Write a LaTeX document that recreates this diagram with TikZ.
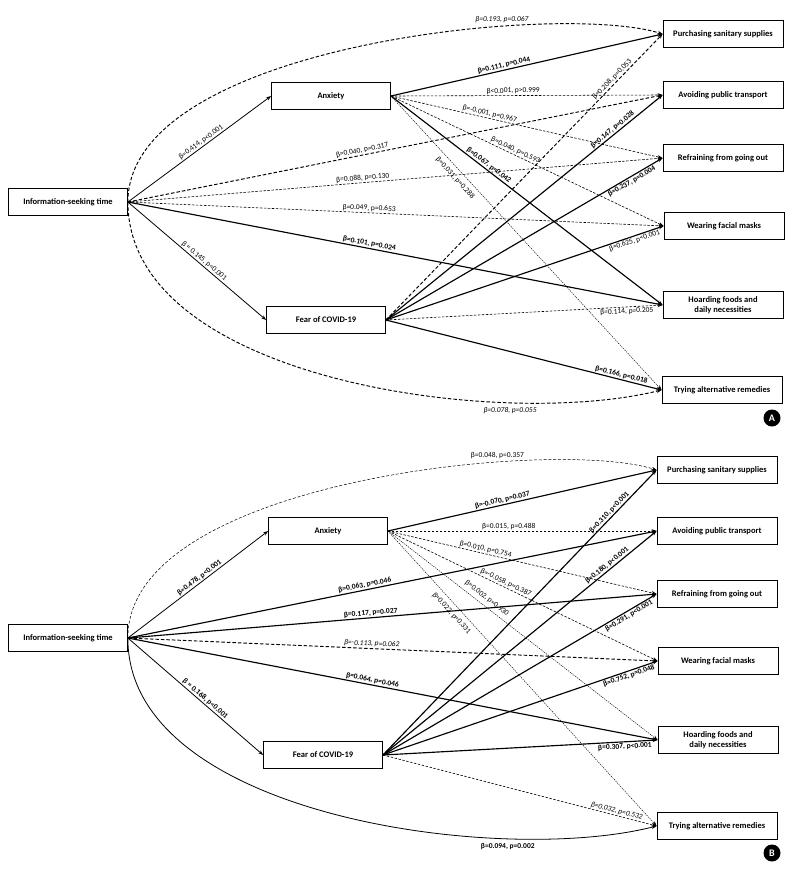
\documentclass[tikz,border=0pt]{standalone}
\usepackage{fontspec}
\setmainfont{Carlito}
\usetikzlibrary{arrows.meta}
\begin{document}
\begin{tikzpicture}[x=1pt,y=-1pt,
  box/.style={draw,line width=0.8pt,fill=white,minimum width=119pt,minimum height=27pt,
    inner sep=1pt,align=center,font=\bfseries\fontsize{8.5}{10}\selectfont},
  tip/.style={-{Stealth[length=5pt,width=3.6pt]}},
  sig/.style={tip,line width=1.15pt},
  medline/.style={tip,line width=0.8pt},
  nsthick/.style={tip,line width=0.95pt,dash pattern=on 3.5pt off 2pt},
  nsmed/.style={tip,line width=0.6pt,dash pattern=on 2.5pt off 1.5pt},
  nsthin/.style={tip,line width=0.45pt,dash pattern=on 1.3pt off 1pt},
  nscurve/.style={tip,line width=0.5pt,dash pattern=on 3pt off 1.8pt},
  lab/.style={font=\fontsize{7.5}{8}\selectfont,inner sep=1pt},
  slab/.style={lab,sloped},
  badge/.style={circle,fill=black,text=white,minimum size=17pt,inner sep=0pt,font=\bfseries\fontsize{10}{10}\selectfont}
]
\useasboundingbox (0,0) rectangle (791,871);

% ================= Panel A =================
\node[box] (infoA) at (68,202) {Information-seeking time};
\node[box] (anxA) at (331,96) {Anxiety};
\node[box] (fearA) at (326,320) {Fear of COVID-19};
\node[box,minimum width=120pt] (purA) at (723,34) {Purchasing sanitary supplies};
\node[box,minimum width=120pt] (avoA) at (723,95) {Avoiding public transport};
\node[box,minimum width=120pt] (refA) at (723,158) {Refraining from going out};
\node[box,minimum width=120pt] (weaA) at (724,226) {Wearing facial masks};
\node[box,minimum width=120pt] (hoaA) at (723,305) {Hoarding foods and\\daily necessities};
\node[box,minimum width=120pt] (tryA) at (722,390) {Trying alternative remedies};
\node[badge] (badgeA) at (772,418) {A};

\draw[nsthick] (infoA.east) .. controls (128,45) and (560,2) .. node[lab,pos=0.7,above=2pt]{\itshape β=0.193, p=0.067} (purA.west);
\draw[medline] (infoA.east) -- node[slab,pos=0.53,above]{β=0.414, p<0.001} (anxA.west);
\draw[medline] (infoA.east) -- node[slab,pos=0.53,above]{β = 0.145, p<0.001} (fearA.west);
\draw[nsthick] (infoA.east) -- node[slab,pos=0.44,above]{β=0.040, p=0.317} (avoA.west);
\draw[nsmed] (infoA.east) -- node[slab,pos=0.44,above]{β=0.088, p=0.130} (refA.west);
\draw[nsmed] (infoA.east) -- node[slab,pos=0.45,above]{β=0.049, p=0.653} (weaA.west);
\draw[sig] (infoA.east) -- node[slab,pos=0.45,above]{\bfseries β=0.101, p=0.024} (hoaA.west);
\draw[nsthick] (infoA.east) .. controls (128,380) and (500,430) .. node[lab,pos=0.75,below=3pt]{\itshape β=0.078, p=0.055} (tryA.west);

\draw[sig] (anxA.east) -- node[slab,pos=0.42,above]{\bfseries β=0.111, p=0.044} (purA.west);
\draw[nsmed] (anxA.east) -- node[slab,pos=0.45,above]{β<0.001, p>0.999} (avoA.west);
\draw[nsmed] (anxA.east) -- node[slab,pos=0.36,above]{β=-0.001, p=0.967} (refA.west);
\draw[nsmed] (anxA.east) -- node[slab,pos=0.45,above]{β=0.040, p=0.593} (weaA.west);
\draw[sig] (anxA.east) -- node[slab,pos=0.35,above]{\bfseries β=0.067, p=0.042} (hoaA.west);
\draw[nsthin] (anxA.east) -- node[slab,pos=0.26,below=4pt]{β=0.031, p=0.288} (tryA.west);

\draw[nsthick] (fearA.east) -- node[slab,pos=0.83,above]{β=0.208, p=0.053} (purA.west);
\draw[sig] (fearA.east) -- node[slab,pos=0.83,above]{\bfseries β=0.147, p=0.028} (avoA.west);
\draw[sig] (fearA.east) -- node[slab,pos=0.88,below]{\bfseries β=0.237, p=0.004} (refA.west);
\draw[sig] (fearA.east) -- node[slab,pos=0.89,below]{β=0.625, p<0.001} (weaA.west);
\draw[nsmed] (fearA.east) -- node[slab,pos=0.87,below]{β=0.114, p=0.205} (hoaA.west);
\draw[sig] (fearA.east) -- node[slab,pos=0.85,above]{\bfseries β=0.166, p=0.018} (tryA.west);

% ================= Panel B =================
\node[box] (infoB) at (68,638) {Information-seeking time};
\node[box] (anxB) at (328,531) {Anxiety};
\node[box] (fearB) at (323,755) {Fear of COVID-19};
\node[box,minimum width=120pt] (purB) at (717,470) {Purchasing sanitary supplies};
\node[box,minimum width=120pt] (avoB) at (717,531) {Avoiding public transport};
\node[box,minimum width=120pt] (refB) at (717,594) {Refraining from going out};
\node[box,minimum width=120pt] (weaB) at (718,661) {Wearing facial masks};
\node[box,minimum width=120pt] (hoaB) at (718,740) {Hoarding foods and\\daily necessities};
\node[box,minimum width=120pt] (tryB) at (717,826) {Trying alternative remedies};
\node[badge] (badgeB) at (772,853) {B};

\draw[nscurve] (infoB.east) .. controls (127,480) and (555,438) .. node[lab,pos=0.7,above=2pt]{β=0.048, p=0.357} (purB.west);
\draw[medline] (infoB.east) -- node[slab,pos=0.53,above]{\bfseries β=0.478, p<0.001} (anxB.west);
\draw[medline] (infoB.east) -- node[slab,pos=0.55,above]{\bfseries β = 0.168, p<0.001} (fearB.west);
\draw[sig] (infoB.east) -- node[slab,pos=0.45,above]{\bfseries β=0.063, p=0.046} (avoB.west);
\draw[sig] (infoB.east) -- node[slab,pos=0.46,above]{\bfseries β=0.117, p=0.027} (refB.west);
\draw[nsthick] (infoB.east) -- node[slab,pos=0.46,above]{\itshape β=-0.113, p=0.062} (weaB.west);
\draw[sig] (infoB.east) -- node[slab,pos=0.46,above]{\bfseries β=0.064, p=0.046} (hoaB.west);
\draw[medline] (infoB.east) .. controls (127,816) and (500,866) .. node[lab,pos=0.75,below=3pt]{\bfseries β=0.094, p=0.002} (tryB.west);

\draw[sig] (anxB.east) -- node[slab,pos=0.43,above]{\bfseries β=-0.070, p=0.037} (purB.west);
\draw[nsmed] (anxB.east) -- node[slab,pos=0.45,above]{β=0.015, p=0.488} (avoB.west);
\draw[nsmed] (anxB.east) -- node[slab,pos=0.36,above]{β=0.010, p=0.754} (refB.west);
\draw[nsmed] (anxB.east) -- node[slab,pos=0.43,above]{β=-0.058, p=0.387} (weaB.west);
\draw[nsthin] (anxB.east) -- node[slab,pos=0.35,above=3pt]{β=0.002, p=0.930} (hoaB.west);
\draw[nsthin] (anxB.east) -- node[slab,pos=0.26,below=4pt]{β=0.022, p=0.331} (tryB.west);

\draw[sig] (fearB.east) -- node[slab,pos=0.84,above]{\bfseries β=0.310, p<0.001} (purB.west);
\draw[sig] (fearB.east) -- node[slab,pos=0.83,above]{\bfseries β=0.180, p<0.001} (avoB.west);
\draw[sig] (fearB.east) -- node[slab,pos=0.89,below]{\bfseries β=0.291, p<0.001} (refB.west);
\draw[sig] (fearB.east) -- node[slab,pos=0.89,below]{\bfseries β=0.752, p=0.048} (weaB.west);
\draw[sig] (fearB.east) -- node[slab,pos=0.88,below]{\bfseries β=0.307, p<0.001} (hoaB.west);
\draw[nsmed] (fearB.east) -- node[slab,pos=0.85,above]{\itshape β=0.032, p=0.532} (tryB.west);
\end{tikzpicture}
\end{document}
